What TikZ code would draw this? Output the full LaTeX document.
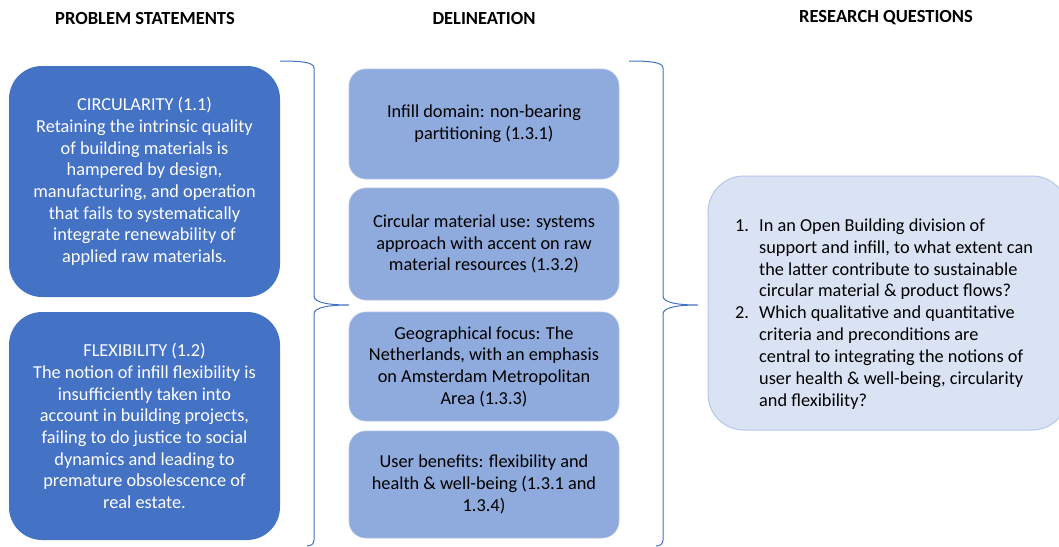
\documentclass[tikz,border=0pt]{standalone}
\usepackage{fontspec}
\setmainfont{Carlito}
\definecolor{darkbox}{HTML}{4472C4}
\definecolor{midbox}{HTML}{8FAADC}
\definecolor{rqfill}{HTML}{DAE3F3}
\definecolor{rqline}{HTML}{B4C7E7}
\definecolor{bracecol}{HTML}{4472C4}
\tikzset{
  hdr/.style={font=\fontsize{18.5}{21.7}\selectfont\bfseries, text=black},
  probbox/.style={rectangle, rounded corners=33pt, fill=darkbox, text=white,
    minimum width=271pt, align=center, inner sep=0pt,
    font=\fontsize{18.3}{21.7}\selectfont},
  delbox/.style={rectangle, rounded corners=17pt, fill=midbox, draw=midbox!70!white,
    line width=0.6pt, text=black, minimum width=270pt, align=center, inner sep=0pt,
    font=\fontsize{18.3}{21.7}\selectfont},
  rqbox/.style={rectangle, rounded corners=36pt, fill=rqfill, draw=rqline,
    line width=1pt, minimum width=360pt, minimum height=254pt, inner sep=0pt},
  rqtext/.style={align=left, inner sep=0pt, text=black,
    font=\fontsize{18.3}{21.9}\selectfont},
  bracestyle/.style={draw=bracecol, line width=1pt}
}
\begin{document}
\begin{tikzpicture}[x=1pt,y=-1pt]
\useasboundingbox (0,0) rectangle (1059,546);
\begin{scope}
\clip (0,0) rectangle (1059,546);
\fill[white] (0,0) rectangle (1059,546);

% headers
\node[hdr] (h1) at (145,18) {PROBLEM STATEMENTS};
\node[hdr] (h2) at (484,18) {DELINEATION};
\node[hdr] (h3) at (886,18) {RESEARCH QUESTIONS};

% problem statements
\node[probbox, minimum height=231pt] (p1) at (144.5,181.5)
  {CIRCULARITY (1.1)\\Retaining the intrinsic quality\\of building materials is\\hampered by design,\\manufacturing, and operation\\that fails to systematically\\integrate renewability of\\applied raw materials.};
\node[probbox, minimum height=228pt] (p2) at (144.5,426)
  {FLEXIBILITY (1.2)\\The notion of infill flexibility is\\insufficiently taken into\\account in building projects,\\failing to do justice to social\\dynamics and leading to\\premature obsolescence of\\real estate.};

% delineation
\node[delbox, minimum height=110pt] (d1) at (484,124)
  {Infill domain: non-bearing\\partitioning (1.3.1)};
\node[delbox, minimum height=112pt] (d2) at (484,244)
  {Circular material use: systems\\approach with accent on raw\\material resources (1.3.2)};
\node[delbox, minimum height=109pt] (d3) at (484,366.5)
  {Geographical focus: The\\Netherlands, with an emphasis\\on Amsterdam Metropolitan\\Area (1.3.3)};
\node[delbox, minimum height=107pt] (d4) at (484,484.5)
  {User benefits: flexibility and\\health \& well-being (1.3.1 and\\1.3.4)};

% research questions
\node[rqbox] (rq) at (888,303) {};
\node[rqtext, anchor=west] (rqt) at (735,314)
  {\makebox[24pt][l]{1.}In an Open Building division of\\
   \hspace*{24pt}support and infill, to what extent can\\
   \hspace*{24pt}the latter contribute to sustainable\\
   \hspace*{24pt}circular material \& product flows?\\
   \makebox[24pt][l]{2.}Which qualitative and quantitative\\
   \hspace*{24pt}criteria and preconditions are\\
   \hspace*{24pt}central to integrating the notions of\\
   \hspace*{24pt}user health \& well-being, circularity\\
   \hspace*{24pt}and flexibility?};

% braces
\coordinate (b1top) at (280,61);
\coordinate (b1tip) at (349,305);
\coordinate (b1bot) at (307,546);
\draw[bracestyle] (b1top) .. controls (300,61) and (314,62) .. (314,68)
  -- (314,296) .. controls (314,303) and (330,305) .. (b1tip)
  .. controls (330,305) and (314,307) .. (314,314)
  -- (314,540) .. controls (314,544) and (311,546) .. (b1bot);

\coordinate (b2top) at (629,61);
\coordinate (b2tip) at (698,305);
\coordinate (b2bot) at (656,546);
\draw[bracestyle] (b2top) .. controls (649,61) and (663,62) .. (663,68)
  -- (663,296) .. controls (663,303) and (679,305) .. (b2tip)
  .. controls (679,305) and (663,307) .. (663,314)
  -- (663,540) .. controls (663,544) and (660,546) .. (b2bot);
\end{scope}
\end{tikzpicture}
\end{document}
